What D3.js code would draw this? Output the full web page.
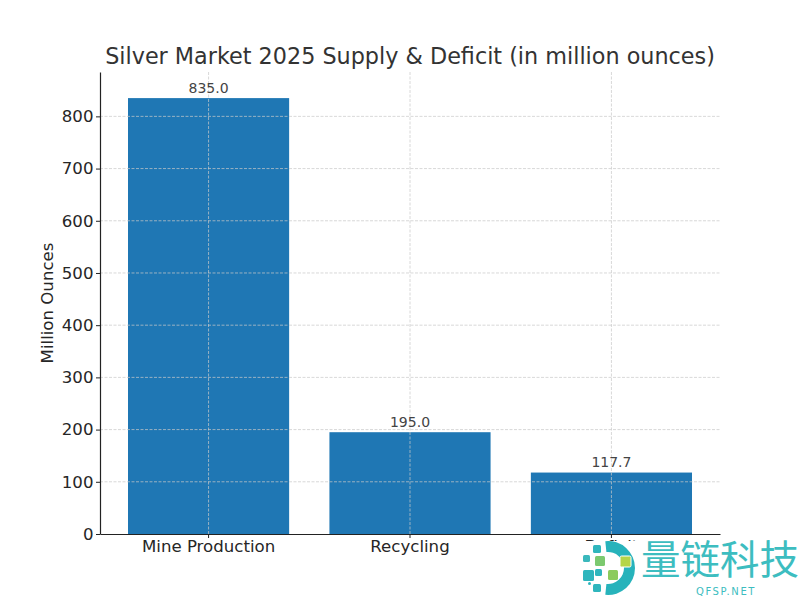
<!DOCTYPE html>
<html>
<head>
<meta charset="utf-8">
<script src="https://cdn.jsdelivr.net/npm/d3@7"></script>
<style>
  html, body { margin: 0; padding: 0; background: #fff; }
  svg { display: block; font-family: "DejaVu Sans", sans-serif; }
</style>
</head>
<body>
<div id="chart"></div>
<script>
// Chart data
const categories = ['Mine Production', 'Recycling', 'Deficit'];
const values = [835.0, 195.0, 117.7];
const yTicks = [0, 100, 200, 300, 400, 500, 600, 700, 800];
const chartTitle = 'Silver Market 2025 Supply & Deficit (in million ounces)';
const yLabel = 'Million Ounces';

const width = 800, height = 600;
const plot = { left: 100, right: 720, top: 72, bottom: 534 };

const svg = d3.select('#chart').append('svg')
    .attr('width', width)
    .attr('height', height);

const x = d3.scaleBand()
    .domain(categories)
    .range([plot.left, plot.right])
    .paddingInner(0.2)
    .paddingOuter(0.139);

const y = d3.scaleLinear()
    .domain([0, 885])
    .range([plot.bottom, plot.top]);

// Bars sit under the grid
svg.selectAll('.bar')
    .data(values)
    .enter()
    .append('rect')
    .attr('class', 'bar')
    .attr('x', (d, i) => x(categories[i]))
    .attr('y', d => y(d))
    .attr('width', x.bandwidth())
    .attr('height', d => y(0) - y(d))
    .attr('fill', '#1f77b4');

// Grid lines
const grid = svg.append('g').attr('class', 'grid');
grid.selectAll('.grid-h')
    .data(yTicks.slice(1))
    .enter()
    .append('line')
    .attr('x1', plot.left).attr('x2', plot.right)
    .attr('y1', d => y(d)).attr('y2', d => y(d));
grid.selectAll('.grid-v')
    .data(categories)
    .enter()
    .append('line')
    .attr('x1', d => x(d) + x.bandwidth() / 2)
    .attr('x2', d => x(d) + x.bandwidth() / 2)
    .attr('y1', plot.top).attr('y2', plot.bottom);
grid.selectAll('line')
    .attr('stroke', '#c8c8c8')
    .attr('stroke-opacity', 0.9)
    .attr('stroke-width', 0.8)
    .attr('stroke-dasharray', '3,1.5');

// Axes
const yAxis = svg.append('g')
    .attr('transform', `translate(${plot.left},0)`)
    .call(d3.axisLeft(y).tickValues(yTicks).tickSize(4).tickSizeOuter(0).tickPadding(2.5).tickFormat(d3.format('d')));
const xAxis = svg.append('g')
    .attr('transform', `translate(0,${plot.bottom})`)
    .call(d3.axisBottom(x).tickSize(4).tickSizeOuter(0).tickPadding(2));

[yAxis, xAxis].forEach(axis => {
    axis.selectAll('text')
        .attr('fill', '#262626')
        .style('font-family', '"DejaVu Sans", sans-serif')
        .style('font-size', '16.6px');
    axis.selectAll('line').attr('stroke', '#222');
    axis.select('.domain').attr('stroke', '#222').attr('stroke-width', 1.2);
});

// Value labels
svg.selectAll('.value-label')
    .data(values)
    .enter()
    .append('text')
    .attr('class', 'value-label')
    .attr('x', (d, i) => x(categories[i]) + x.bandwidth() / 2)
    .attr('y', d => y(d) - 5.5)
    .attr('text-anchor', 'middle')
    .attr('fill', '#444')
    .style('font-size', '14px')
    .text(d => d.toFixed(1));

// Title and axis label
svg.append('text')
    .attr('x', 410)
    .attr('y', 63.5)
    .attr('text-anchor', 'middle')
    .attr('fill', '#333')
    .style('font-size', '22.3px')
    .text(chartTitle);

svg.append('text')
    .attr('transform', 'translate(53,303) rotate(-90)')
    .attr('text-anchor', 'middle')
    .attr('fill', '#262626')
    .style('font-size', '16.6px')
    .text(yLabel);

// Watermark covers the lower part of the third label
const mark = svg.append('g').attr('class', 'watermark');
mark.append('rect')
    .attr('x', 575).attr('y', 541)
    .attr('width', 225).attr('height', 59)
    .attr('fill', '#fff');

const ring = d3.arc()
    .innerRadius(16).outerRadius(27)
    .startAngle(-0.1).endAngle(Math.PI + 0.1);
mark.append('path')
    .attr('transform', 'translate(608,568)')
    .attr('d', ring())
    .attr('fill', '#27b3bb');

const logoSquares = [
    [593, 545, 8, '#2fb6bd'], [583, 555, 7, '#3ab8bc'], [595, 556, 10, '#7cc96f'],
    [583, 570, 11, '#2fb6bd'], [595, 569, 7, '#2fb6bd'],
    [608, 570, 10, '#8ccb5c'], [593, 584, 8, '#2fb6bd'], [588, 582, 3, '#2fb6bd']
];
mark.selectAll('.logo-square')
    .data(logoSquares)
    .enter()
    .append('rect')
    .attr('x', d => d[0]).attr('y', d => d[1])
    .attr('width', d => d[2]).attr('height', d => d[2])
    .attr('rx', 1.5)
    .attr('fill', d => d[3]);

// Yellow square cuts into the ring, so it keeps a white edge
mark.append('rect')
    .attr('x', 620).attr('y', 556)
    .attr('width', 11).attr('height', 11)
    .attr('rx', 1.5)
    .attr('fill', '#b5d548')
    .attr('stroke', '#fff')
    .attr('stroke-width', 1);

mark.append('text')
    .attr('x', 641).attr('y', 574)
    .attr('fill', '#3dbdc0')
    .style('font-family', '"Noto Sans CJK SC"')
    .style('font-size', '39.5px')
    .text('量链科技');
mark.append('text')
    .attr('x', 726).attr('y', 595)
    .attr('text-anchor', 'middle')
    .attr('fill', '#3dbdc0')
    .style('font-size', '10px')
    .style('letter-spacing', '1.6px')
    .text('QFSP.NET');
</script>
</body>
</html>
